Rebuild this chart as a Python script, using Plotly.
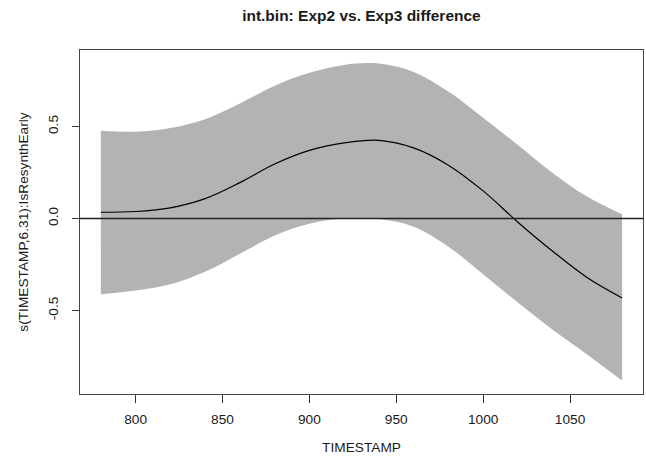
import plotly.graph_objects as go

# Data
timestamp = [780, 800, 820, 840, 860, 880, 900, 920, 940, 960, 980, 1000, 1020, 1040, 1060, 1080]
fit = [0.034, 0.038, 0.058, 0.108, 0.195, 0.296, 0.370, 0.411, 0.425, 0.384, 0.290, 0.150, -0.020,
       -0.178, -0.322, -0.432]
upper = [0.477, 0.472, 0.492, 0.540, 0.625, 0.722, 0.792, 0.835, 0.842, 0.797, 0.690, 0.548, 0.400,
         0.248, 0.118, 0.023]
lower = [-0.412, -0.392, -0.358, -0.290, -0.192, -0.092, -0.028, 0.000, -0.003, -0.045, -0.153, -0.303,
         -0.457, -0.605, -0.740, -0.881]
x_ticks = [800, 850, 900, 950, 1000, 1050]
y_ticks = [-0.5, 0.0, 0.5]
y_tick_text = ["-0.5", "0.0", "0.5"]

FONT = "Liberation Sans, Arial, Helvetica, sans-serif"
BAND = "#B3B3B3"

fig = go.Figure()
fig.add_trace(go.Scatter(x=timestamp, y=upper, mode="lines",
                         line=dict(width=0, shape="spline", smoothing=1.0, color=BAND),
                         hoverinfo="skip", showlegend=False))
fig.add_trace(go.Scatter(x=timestamp, y=lower, mode="lines",
                         line=dict(width=0, shape="spline", smoothing=1.0, color=BAND),
                         fill="tonexty", fillcolor=BAND, hoverinfo="skip", showlegend=False))
fig.add_trace(go.Scatter(x=timestamp, y=fit, mode="lines",
                         line=dict(width=1.2, shape="spline", smoothing=1.0, color="black"),
                         showlegend=False))

fig.add_hline(y=0, line=dict(color="#222222", width=1.3), layer="above")

fig.update_layout(
    width=646, height=461,
    margin=dict(l=80, r=3, t=50, b=67),
    paper_bgcolor="white", plot_bgcolor="white",
    font=dict(family=FONT, size=13.7, color="#1a1a1a"),
    title=dict(text="<b>int.bin: Exp2 vs. Exp3 difference</b>", x=0.5595, xanchor="center",
               y=1 - 16 / 461, yanchor="middle", font=dict(family=FONT, size=15.5, color="#1a1a1a")),
    xaxis=dict(range=[768, 1092], tickvals=x_ticks, ticks="outside", ticklen=8, tickcolor="#333333",
               showline=True, linecolor="#444444", linewidth=1.3, mirror=True, showgrid=False, zeroline=False,
               ticklabelstandoff=4,
               title=dict(text="TIMESTAMP", standoff=16, font=dict(size=13.7))),
    yaxis=dict(range=[-0.954, 0.916], tickvals=y_ticks, ticktext=y_tick_text, ticks="outside",
               ticklen=7, tickcolor="#333333", tickangle=-90,
               showline=True, linecolor="#444444", linewidth=1.3, mirror=True, showgrid=False, zeroline=False,
               ticklabelstandoff=8,
               title=dict(text="s(TIMESTAMP,6.31):IsResynthEarly", standoff=14, font=dict(size=13.7))),
)

fig.write_html("out.html", config={"displayModeBar": False},
               post_script="document.body.style.margin='0';")
